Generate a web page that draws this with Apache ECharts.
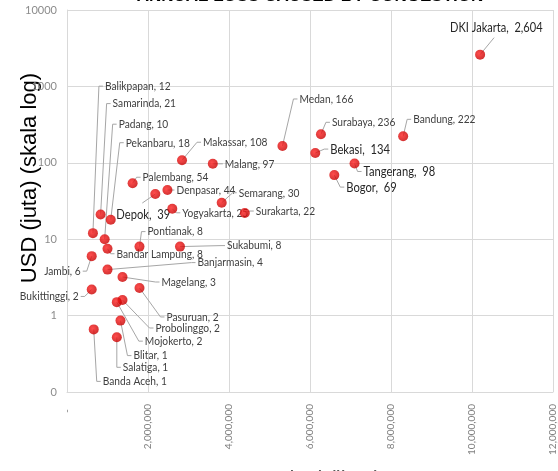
<!DOCTYPE html>
<html>
<head>
<meta charset="utf-8">
<script src="https://cdn.jsdelivr.net/npm/echarts@6/dist/echarts.min.js"></script>
<style>
html, body { margin: 0; padding: 0; background: #fff; }
#chart { width: 558px; height: 471px; }
</style>
</head>
<body>
<div id="chart"></div>
<script>
// kota, populasi (jiwa) dan kerugian (USD juta)
const cities = [
    'DKI Jakarta', 'Bandung', 'Surabaya', 'Medan', 'Bekasi', 'Tangerang', 'Bogor',
    'Makassar', 'Malang', 'Palembang', 'Depok', 'Denpasar', 'Semarang', 'Yogyakarta',
    'Surakarta', 'Samarinda', 'Pekanbaru', 'Balikpapan', 'Padang', 'Pontianak',
    'Sukabumi', 'Bandar Lampung', 'Jambi', 'Banjarmasin', 'Magelang', 'Bukittinggi',
    'Pasuruan', 'Probolinggo', 'Mojokerto', 'Blitar', 'Banda Aceh', 'Salatiga'
];
const population = [
    10200000, 8300000, 6270000, 5320000, 6130000, 7100000, 6600000,
    2840000, 3600000, 1620000, 2180000, 2480000, 3820000, 2600000,
    4390000, 830000, 1080000, 640000, 930000, 1790000,
    2790000, 1000000, 610000, 1000000, 1370000, 610000,
    1790000, 1370000, 1230000, 1320000, 660000, 1230000
];
const lossUsd = [
    2604, 222, 236, 166, 134, 98, 69,
    108, 97, 54, 39, 44, 30, 25,
    22, 21, 18, 12, 10, 8,
    8, 7.5, 6, 4, 3.2, 2.2,
    2.3, 1.6, 1.5, 0.86, 0.66, 0.52
];
const xTicks = [0, 2000000, 4000000, 6000000, 8000000, 10000000, 12000000];
const yTicks = [0.1, 1, 10, 100, 1000, 10000];

// posisi label relatif terhadap titik: dx, dy, rata, ujung garis (opsional)
const labelPlace = {
    'DKI Jakarta': [-30, -27, 'left', 14, -17],
    'Bandung': [10, -17], 'Surabaya': [11, -12], 'Medan': [17, -47],
    'Bekasi': [15, -4], 'Tangerang': [9, 8], 'Bogor': [12, 12],
    'Makassar': [21, -18], 'Malang': [12, 0], 'Palembang': [10, -6],
    'Depok': [-39, 20, 'left', -13, 9],
    'Denpasar': [9, 0], 'Semarang': [17, -10], 'Yogyakarta': [10, 4],
    'Surakarta': [11, -2], 'Samarinda': [12, -111], 'Pekanbaru': [15, -77],
    'Balikpapan': [12, -147], 'Padang': [14, -115], 'Pontianak': [8, -15],
    'Sukabumi': [47, -1], 'Bandar Lampung': [9, 5], 'Jambi': [-11, 15, 'right'],
    'Banjarmasin': [90, -7], 'Magelang': [39, 5], 'Bukittinggi': [-13, 7, 'right'],
    'Pasuruan': [27, 29], 'Probolinggo': [33, 28], 'Mojokerto': [28, 39],
    'Blitar': [13, 35], 'Banda Aceh': [9, 52], 'Salatiga': [6, 30]
};
// gaya label: ukuran huruf, penyempitan horizontal, warna
const labelStyle = {
    normal: [12, 0.85, '#404040'],
    big: [14, 0.8, '#262626'],
    'DKI Jakarta': [13, 0.85, '#262626']
};
const bigLabels = ['Depok', 'Bekasi', 'Tangerang', 'Bogor'];
const doubleSpace = ['DKI Jakarta', 'Depok', 'Bekasi', 'Tangerang', 'Bogor'];

const labelFont = 'Lato, "Liberation Sans", sans-serif';

const chart = echarts.init(document.getElementById('chart'));

const points = cities.map((c, i) => [population[i], lossUsd[i], i]);

const option = {
    backgroundColor: '#fff',
    animation: false,
    grid: { left: 67, right: 1, top: 10, bottom: 79 },
    graphic: [
        {
            type: 'text', x: 310, y: -4,
            style: {
                text: 'ANNUAL LOSS CAUSED BY CONGESTION',
                font: 'bold 17px "Liberation Sans", Arial, sans-serif',
                fill: '#000', align: 'center', verticalAlign: 'middle'
            }
        },
        {
            type: 'text', x: 30, y: 178, rotation: Math.PI / 2,
            style: {
                text: 'USD (juta) (skala log)',
                font: '22px "Liberation Sans", Arial, sans-serif',
                fill: '#000', align: 'center', verticalAlign: 'middle'
            }
        },
        {
            type: 'text', x: 238, y: 469,
            style: {
                text: 'Populasi (jiwa)',
                font: '22px "Liberation Sans", Arial, sans-serif',
                fill: '#595959', align: 'left', verticalAlign: 'top'
            }
        }
    ],
    xAxis: {
        type: 'value',
        min: xTicks[0],
        max: xTicks[xTicks.length - 1],
        interval: xTicks[1] - xTicks[0],
        axisLine: { show: true, lineStyle: { color: '#d9d9d9' } },
        axisTick: { show: false },
        splitLine: { show: true, lineStyle: { color: '#d9d9d9' } },
        axisLabel: {
            rotate: 90,
            margin: 12,
            color: '#7f7f7f',
            fontSize: 10,
            fontFamily: labelFont,
            showMaxLabel: true,
            formatter: v => v === 0 ? ' -  ' : v.toLocaleString('en-US')
        }
    },
    yAxis: {
        type: 'log',
        logBase: 10,
        min: yTicks[0],
        max: yTicks[yTicks.length - 1],
        axisLine: { show: true, lineStyle: { color: '#d9d9d9' } },
        axisTick: { show: false },
        splitLine: { show: true, lineStyle: { color: '#d9d9d9' } },
        axisLabel: {
            margin: 10,
            color: '#8c8c8c',
            fontSize: 11,
            fontFamily: labelFont,
            formatter: v => v < 1 ? '0' : String(Math.round(v))
        }
    },
    series: [
        {
            type: 'custom',
            z: 2,
            clip: false,
            silent: true,
            data: points,
            renderItem: function (params, api) {
                const i = api.value(2);
                const name = cities[i];
                const p = api.coord([api.value(0), api.value(1)]);
                const o = labelPlace[name];
                const ax = p[0] + o[0];
                const ay = p[1] + o[1];
                const alignLeft = o[2] !== 'right';
                let pts;
                if (o[3] != null) {
                    pts = [p, [p[0] + o[3], p[1] + o[4]]];
                } else {
                    const s = alignLeft ? -1 : 1;
                    pts = [p, [ax + s * 6, ay], [ax + s * 2, ay]];
                }
                const st = labelStyle[name] || (bigLabels.indexOf(name) >= 0 ? labelStyle.big : labelStyle.normal);
                const sep = doubleSpace.indexOf(name) >= 0 ? ',  ' : ', ';
                const txt = name + sep + Math.round(lossUsd[i]).toLocaleString('en-US');
                return {
                    type: 'group',
                    children: [
                        {
                            type: 'polyline',
                            shape: { points: pts },
                            style: { stroke: '#a6a6a6', lineWidth: 1, fill: null }
                        },
                        {
                            type: 'text',
                            x: ax, y: ay,
                            scaleX: st[1],
                            style: {
                                text: txt,
                                align: alignLeft ? 'left' : 'right',
                                verticalAlign: 'middle',
                                fill: st[2],
                                font: st[0] + 'px ' + labelFont
                            }
                        }
                    ]
                };
            }
        },
        {
            type: 'scatter',
            z: 3,
            symbol: 'circle',
            symbolSize: 10,
            data: points,
            itemStyle: {
                color: new echarts.graphic.RadialGradient(0.4, 0.4, 0.6, [
                    { offset: 0, color: '#ff2020' },
                    { offset: 1, color: '#c80000' }
                ])
            }
        }
    ]
};

chart.setOption(option);
</script>
</body>
</html>
